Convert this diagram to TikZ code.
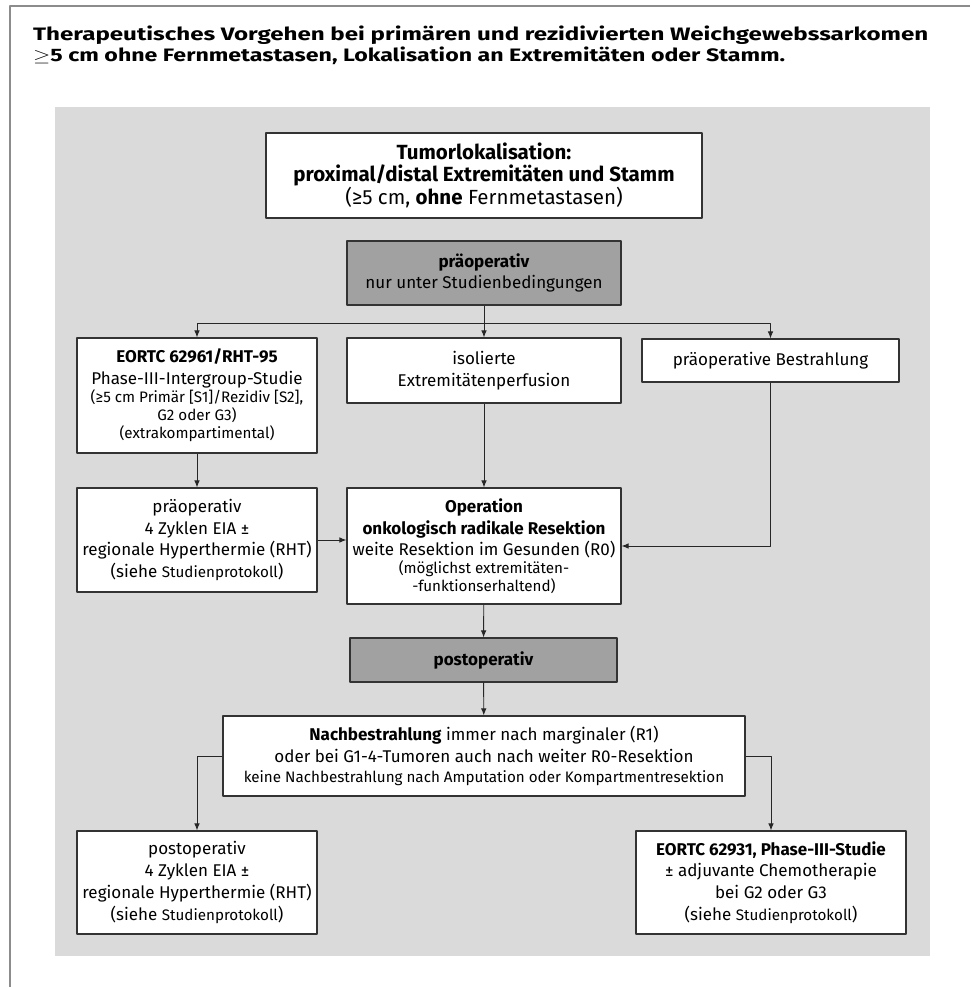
\documentclass[tikz,border=0pt]{standalone}
\usepackage{fontspec}
\setmainfont{Fira Sans}
\usetikzlibrary{arrows.meta}
\begin{document}
\begin{tikzpicture}[x=1pt,y=-1pt,>={Latex[length=7pt,width=5.5pt]}, line join=round,
	box/.style={draw=black!80,fill=white,line width=1.1pt,align=center,inner sep=0pt,font=\fs},
	dbox/.style={box,fill=black!37},
	arr/.style={->,line width=0.9pt,draw=black!85}]
	\def\fs{\fontsize{17}{21.7}\selectfont}
	\def\fss{\fontsize{15.2}{18}\selectfont}
	\def\fst{\fontsize{20.5}{21.5}\selectfont}
	\useasboundingbox (0,0) rectangle (970,987);
	\draw[line width=1.6pt,draw=black!45] (10,987)--(10,6)--(970,6);
	\node[anchor=north west,align=left,inner sep=0pt,font=\fontsize{18}{20.5}\selectfont\bfseries] (title) at (33,26)
		{\resizebox{895pt}{\height}{Therapeutisches Vorgehen bei primären und rezidivierten Weichgewebssarkomen}\\
		 \resizebox{752pt}{\height}{$\geq$5 cm ohne Fernmetastasen, Lokalisation an Extremitäten oder Stamm.}};
	\fill[black!14.5] (55,107) rectangle (930,956);
	% praeoperativ
	\node[box,font=\fst,minimum width=436,minimum height=85] (tumor) at (484,175.5) {\textbf{Tumorlokalisation:}\\ \textbf{proximal/distal Extremitäten und Stamm}\\ (≥5 cm, \textbf{ohne} Fernmetastasen)};
	\node[dbox,minimum width=274,minimum height=64] (praeop) at (484,273) {\textbf{präoperativ}\\ nur unter Studienbedingungen};
	\node[box,minimum width=240,minimum height=115] (eortcA) at (197,395.5) {\textbf{EORTC 62961/RHT-95}\\ Phase-III-Intergroup-Studie\\[-3.5pt] {\fss(≥5 cm Primär [S1]/Rezidiv [S2],}\\[-3.5pt] {\fss G2 oder G3)}\\[-3.5pt] {\fss(extrakompartimental)}};
	\node[box,minimum width=274,minimum height=65] (perf) at (484,370.5) {isolierte\\ Extremitätenperfusion};
	\node[box,minimum width=257,minimum height=43] (bestr) at (770.5,360.5) {präoperative Bestrahlung};
	\node[box,minimum width=240,minimum height=104] (chemoA) at (197,540) {präoperativ\\ 4 Zyklen EIA ±\\ regionale Hyperthermie (RHT)\\ (siehe {\fss Studienprotokoll})};
	\node[box,minimum width=274,minimum height=116] (op) at (484,546) {\textbf{Operation}\\ \textbf{onkologisch radikale Resektion}\\ weite Resektion im Gesunden (R0)\\[-4pt] {\fss(möglichst extremitäten-}\\[-4pt] {\fss-funktionserhaltend)}};
	% postoperativ
	\node[dbox,minimum width=267,minimum height=44] (postop) at (483.5,660) {\textbf{postoperativ}};
	\node[box,minimum width=522,minimum height=80] (nach) at (484,756) {\textbf{Nachbestrahlung} immer nach marginaler (R1)\\ oder bei G1-4-Tumoren auch nach weiter R0-Resektion\\[-2pt] {\fss keine Nachbestrahlung nach Amputation oder Kompartmentresektion}};
	\node[box,minimum width=240,minimum height=103] (chemoB) at (197,882.5) {postoperativ\\ 4 Zyklen EIA ±\\ regionale Hyperthermie (RHT)\\ (siehe {\fss Studienprotokoll})};
	\node[box,minimum width=270,minimum height=103] (eortcB) at (771,882.5) {\textbf{EORTC 62931, Phase-III-Studie}\\ ± adjuvante Chemotherapie\\ bei G2 oder G3\\ (siehe {\fss Studienprotokoll})};
	\coordinate (bus) at (484,323);
	\draw[line width=0.9pt,draw=black!85] (praeop)--(bus);
	\draw[arr] (bus)--(perf);
	\draw[arr] (bus)-|(eortcA);
	\draw[arr] (bus)-|(bestr);
	\draw[arr] (eortcA)--(chemoA);
	\draw[arr] (perf)--(op);
	\draw[arr] (chemoA.east)--(chemoA.east-|op.west);
	\draw[arr] (bestr)|-(op);
	\draw[arr] (op)--(postop);
	\draw[arr] (postop)--(nach);
	\draw[arr] (nach)-|(chemoB);
	\draw[arr] (nach)-|(eortcB);
\end{tikzpicture}
\end{document}
